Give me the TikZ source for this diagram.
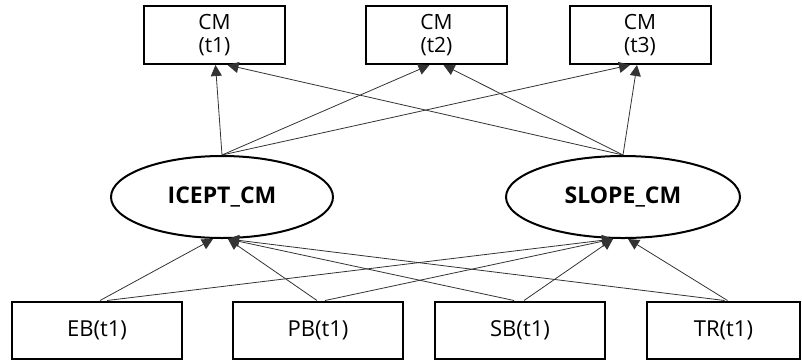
\documentclass[tikz,border=0pt]{standalone}
\usepackage{fontspec}
\setmainfont{Open Sans}
\usetikzlibrary{positioning,shapes.geometric,arrows.meta}

\begin{document}
\begin{tikzpicture}[x=1pt,y=-1pt,
    obsbox/.style={draw,line width=2pt,minimum width=141pt,minimum height=58pt,
                   inner sep=0pt,align=center,font=\fontsize{21}{23}\selectfont},
    indbox/.style={draw,line width=2pt,minimum width=170pt,minimum height=57pt,
                   inner sep=0pt,font=\fontsize{22}{24}\selectfont},
    latent/.style={draw,ellipse,line width=2pt,minimum height=82pt,inner sep=0pt,
                   font=\fontsize{23}{25}\selectfont\bfseries},
    path/.style={black!80,line width=0.8pt,-{Triangle[length=11pt,width=11pt]}}]
      \useasboundingbox (0,0) rectangle (802,360);

      % repeated measures of CM
      \node[obsbox] (cm1) at (214.5,35) {CM\\(t1)};
      \node[obsbox] (cm2) at (436.5,35) {CM\\(t2)};
      \node[obsbox] (cm3) at (640,35)   {CM\\(t3)};

      % growth factors
      \node[latent,minimum width=222pt] (icept) at (222,197) {ICEPT\_CM};
      \node[latent,minimum width=234pt] (slope) at (623,197) {SLOPE\_CM};

      % predictors
      \node[indbox] (eb) at (97,330)  {EB(t1)};
      \node[indbox] (pb) at (318,330) {PB(t1)};
      \node[indbox] (sb) at (520,330) {SB(t1)};
      \node[indbox,minimum width=153pt] (tr) at (723.5,330) {TR(t1)};

      % loadings
      \draw [path] (icept.north) -- ([xshift=1pt]cm1.south);
      \draw [path] (icept.north) -- ([xshift=-7pt]cm2.south);
      \draw [path] (icept.north) -- ([xshift=-10pt]cm3.south);
      \draw [path] (slope.north) -- ([xshift=13pt]cm1.south);
      \draw [path] (slope.north) -- ([xshift=7pt]cm2.south);
      \draw [path] (slope.north) -- ([xshift=-3pt]cm3.south);

      % regressions on the predictors
      \draw [path] ([xshift=3pt]eb.north)  -- ([xshift=-9pt]icept.south);
      \draw [path] ([xshift=10pt]eb.north) -- ([xshift=-10pt]slope.south);
      \draw [path] ([xshift=-1pt]pb.north) -- ([xshift=6pt]icept.south);
      \draw [path] ([xshift=7pt]pb.north)  -- ([xshift=-10pt]slope.south);
      \draw [path] ([xshift=-6pt]sb.north) -- ([xshift=6pt]icept.south);
      \draw [path] ([xshift=4pt]sb.north)  -- ([xshift=-10pt]slope.south);
      \draw [path] ([xshift=1pt]tr.north)  -- ([xshift=6pt]icept.south);
      \draw [path] ([xshift=4pt]tr.north)  -- ([xshift=5pt]slope.south);
\end{tikzpicture}
\end{document}
